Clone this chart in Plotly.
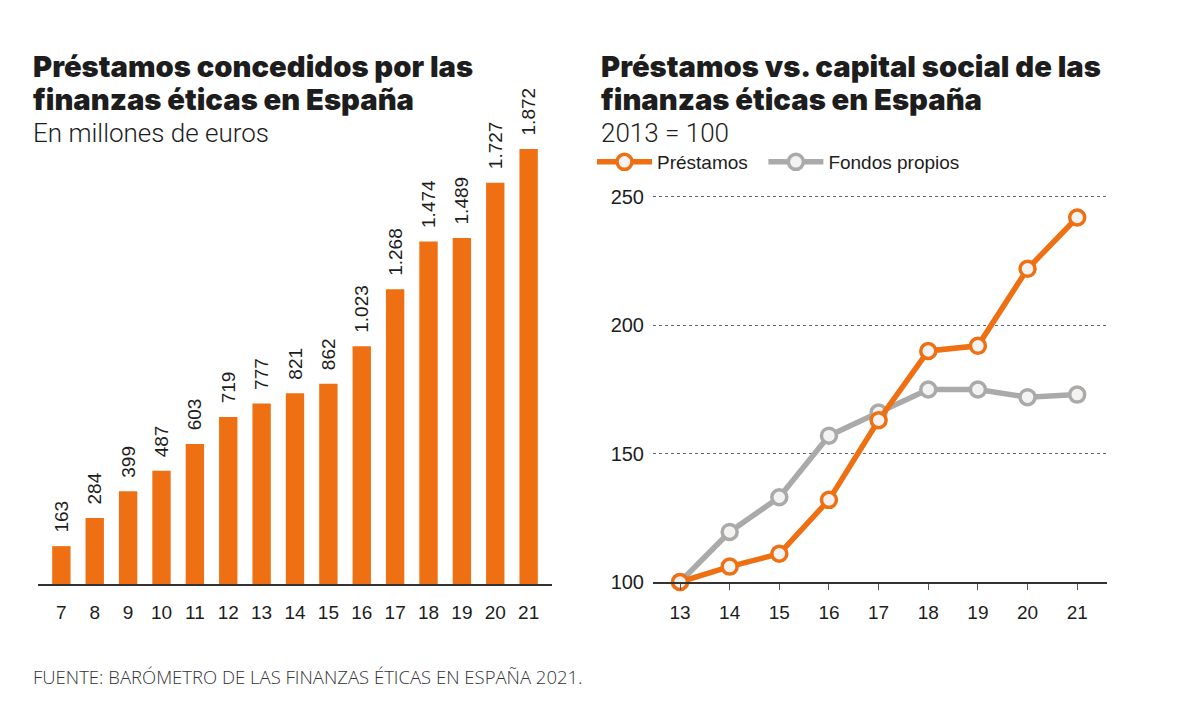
import plotly.graph_objects as go

W, H = 1200, 723

# Left chart data
bar_years = ["7", "8", "9", "10", "11", "12", "13", "14", "15", "16", "17", "18", "19", "20", "21"]
bar_values = [163, 284, 399, 487, 603, 719, 777, 821, 862, 1023, 1268, 1474, 1489, 1727, 1872]

# Right chart data
line_years = ["13", "14", "15", "16", "17", "18", "19", "20", "21"]
prestamos = [100, 106, 111, 132, 163, 190, 192, 222, 242]
fondos = [100, 119.5, 133, 157, 166, 175, 175, 172, 173]
y_ticks = [100, 150, 200, 250]

ORANGE = "#EE7013"
GRAY = "#AAAAAA"
TXT = "#1d1d1d"
FONT = "Liberation Sans"
TFONT = "Inter"


def px(x):
    return x / W


def py(y):
    return 1 - y / H


fig = go.Figure()

fig.add_trace(go.Bar(
    x=bar_years, y=bar_values, marker=dict(color=ORANGE, line=dict(width=0)),
    texttemplate="\u00a0\u00a0%{y:,}", textposition="outside", textangle=-90,
    textfont=dict(family=FONT, size=19, color=TXT), constraintext="none",
    cliponaxis=False, showlegend=False, xaxis="x", yaxis="y",
))

fig.add_trace(go.Scatter(
    x=line_years, y=fondos, name="Fondos propios", mode="lines+markers",
    line=dict(color=GRAY, width=5.5), legendrank=2,
    marker=dict(size=15, color="#f5f3f1", line=dict(color=GRAY, width=3.5)),
    cliponaxis=False, xaxis="x2", yaxis="y2",
))
fig.add_trace(go.Scatter(
    x=line_years, y=prestamos, name="Préstamos\u00a0\u00a0", mode="lines+markers",
    line=dict(color=ORANGE, width=5.5), legendrank=1,
    marker=dict(size=15, color="#f5f3f1", line=dict(color=ORANGE, width=3.5)),
    cliponaxis=False, xaxis="x2", yaxis="y2",
))

fig.update_layout(
    width=W, height=H, paper_bgcolor="white", plot_bgcolor="white",
    margin=dict(l=0, r=0, t=0, b=0, autoexpand=False), separators=",.",
    font=dict(family=FONT, color=TXT),
    bargap=0.45,
    xaxis=dict(domain=[px(38), px(552)], type="category", range=[-0.7, 14.7], automargin=False,
               showline=True, linecolor="#333", linewidth=1.5, ticks="", showgrid=False,
               tickfont=dict(size=19, color=TXT), ticklabelstandoff=10, fixedrange=True),
    yaxis=dict(domain=[py(584), py(100)], range=[0, 2083], visible=False, showgrid=False,
               automargin=False),
    xaxis2=dict(domain=[px(653), px(1107)], anchor="y2", type="category", range=[-0.544, 8.6],
                showline=True, linecolor="#333", linewidth=1.5, ticks="outside", ticklen=6,
                tickcolor="#555", showgrid=False, tickfont=dict(size=19, color=TXT),
                ticklabelstandoff=6, automargin=False),
    yaxis2=dict(domain=[py(582), py(190)], anchor="x2", range=[100, 252.7],
                tickvals=y_ticks, showgrid=True, gridcolor="#666", griddash="dot", gridwidth=1,
                zeroline=False, showline=False, ticks="", tickfont=dict(size=20, color=TXT),
                ticklabelstandoff=8, automargin=False),
    showlegend=True,
    legend=dict(orientation="h", x=px(592), y=py(162), xanchor="left", yanchor="middle",
                font=dict(size=19, color=TXT), itemwidth=55, bgcolor="rgba(0,0,0,0)"),
)


def ann(text, x, y, size, weight=None, color=TXT, family=FONT):
    f = dict(family=family, size=size, color=color)
    if weight:
        f["weight"] = weight
    fig.add_annotation(text=text, x=px(x), y=py(y), xref="paper", yref="paper",
                       xanchor="left", yanchor="middle", showarrow=False, font=f)


ann("Préstamos concedidos por las", 31, 66, 29.2, 900, family=TFONT)
ann("finanzas éticas en España", 31, 100, 29.2, 900, family=TFONT)
ann("En millones de euros", 31, 133, 26, 300, family="Roboto")
ann("Préstamos vs. capital social de las", 599, 66, 29.2, 900, family=TFONT)
ann("finanzas éticas en España", 599, 100, 29.2, 900, family=TFONT)
ann("2013 = 100", 599, 133, 26, 300, family="Roboto")
ann("FUENTE: BARÓMETRO DE LAS FINANZAS ÉTICAS EN ESPAÑA 2021.", 31, 676, 18.5, 300, "#333", "Open Sans")

fig.write_html("out.html", config={"displayModeBar": False},
               post_script="document.body.style.margin='0';")
